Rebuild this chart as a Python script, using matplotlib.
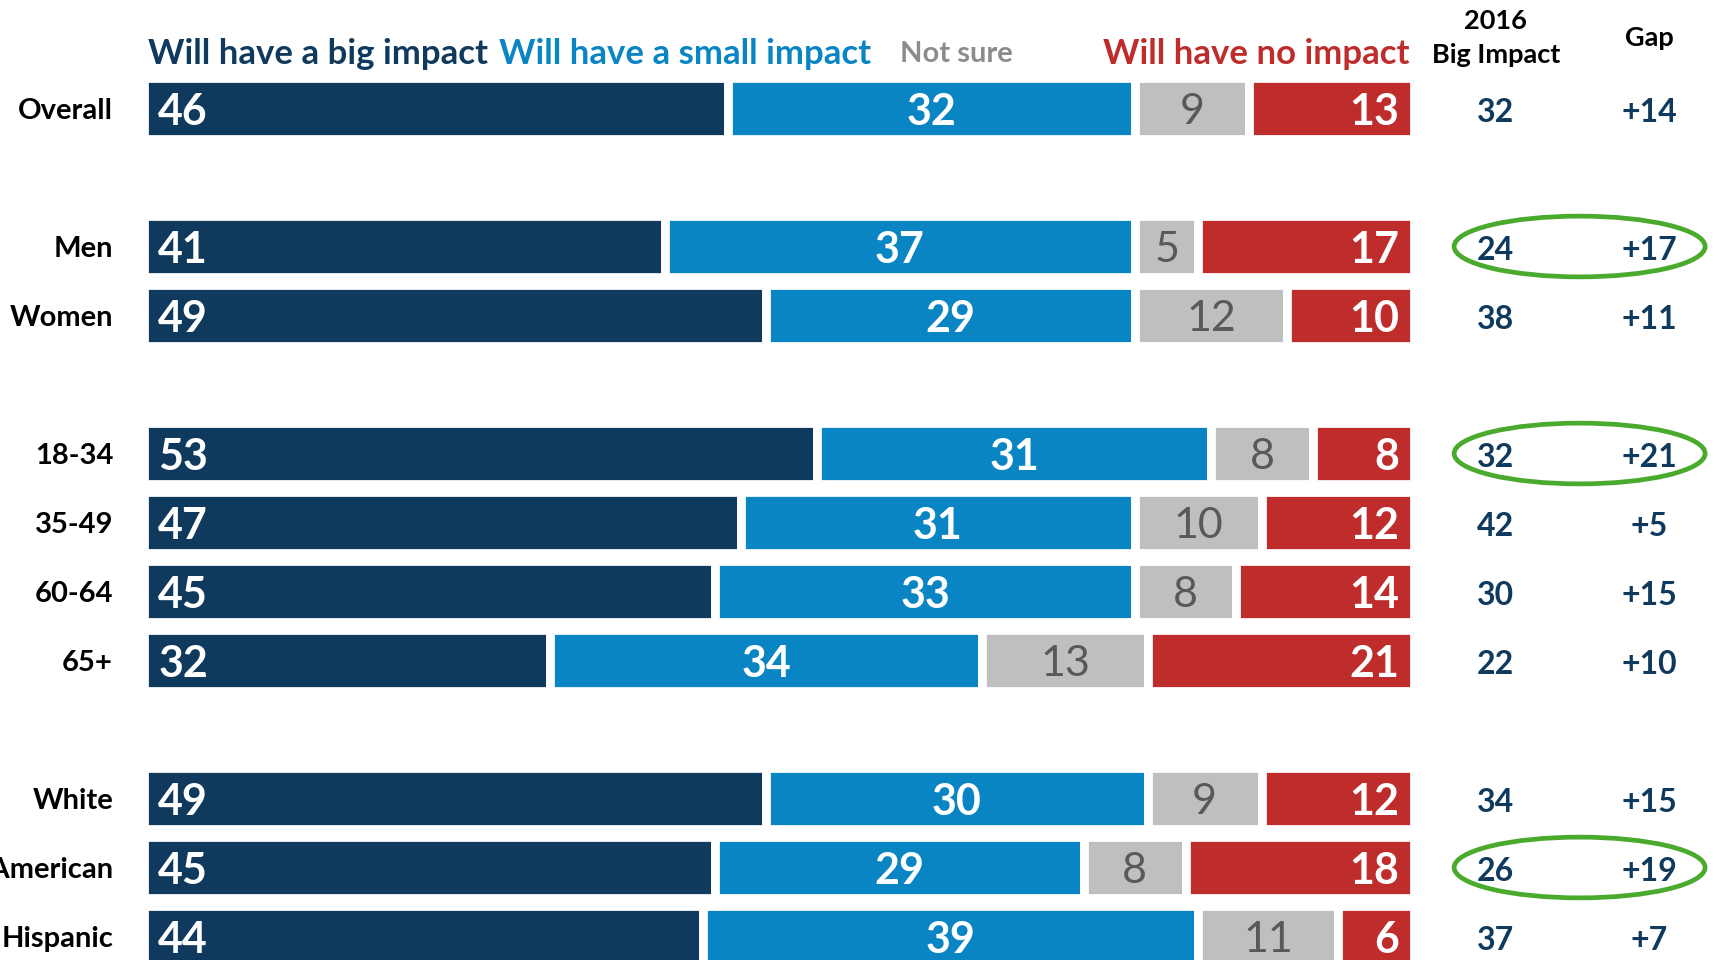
import numpy as np
import matplotlib
matplotlib.use('Agg')
import matplotlib.pyplot as plt
from matplotlib.patches import Ellipse

#==============================================================================
# survey data: share who say it will have a big / small / no impact
groups = ['Overall', 'Men', 'Women', '18-34', '35-49', '60-64', '65+',
          'White', 'African American', 'Hispanic']
rowPos = [0, 2, 3, 5, 6, 7, 8, 10, 11, 12]  # row slots, blank slots between groups

bigImpact   = [46, 41, 49, 53, 47, 45, 32, 49, 45, 44]
smallImpact = [32, 37, 29, 31, 31, 33, 34, 30, 29, 39]
notSure     = [9, 5, 12, 8, 10, 8, 13, 9, 8, 11]
noImpact    = [13, 17, 10, 8, 12, 14, 21, 12, 18, 6]

big2016 = [32, 24, 38, 32, 42, 30, 22, 34, 26, 37]
gap     = ['+14', '+17', '+11', '+21', '+5', '+15', '+10', '+15', '+19', '+7']
circled = ['Men', '18-34', 'African American']

seriesNames = ['Will have a big impact', 'Will have a small impact',
               'Not sure', 'Will have no impact']
#==============================================================================
navy = '#0f3a5e'
blue = '#0a85c3'
grey = '#bfbfbf'
red = '#be2d2b'
green = '#4aaa2e'
fams = ['Lato', 'DejaVu Sans']

pxW, pxH = 1718, 960
x0px, x100px = 143.6, 1414.4   # outer bar edges (white stroke eats ~4.4px)
ppu = (x100px - x0px) / 100.0
rowPx = 69.0
row0px = 108.5

fig = plt.figure(figsize=(pxW/100, pxH/100), dpi=100)
ax = fig.add_axes([0, 0, 1, 1])
ax.set_xlim(-x0px/ppu, (pxW - x0px)/ppu)
ax.set_ylim((pxH - row0px)/rowPx, -row0px/rowPx)
ax.axis('off')

barH = 0.89
series = [bigImpact, smallImpact, notSure, noImpact]
colors = [navy, blue, grey, red]
numSize = 31
xBig16, xGap = 106.4, 118.5

for i, y in enumerate(rowPos):
  left = 0
  for k, vals in enumerate(series):
    v = vals[i]
    ax.barh(y, v, left=left, height=barH, color=colors[k], edgecolor='white', linewidth=6.3)
    if k == 0:
      ax.text(left + 1.15, y, str(v), ha='left', va='center_baseline', color='white',
              fontsize=numSize, fontweight='bold', family=fams)
    elif k == 1:
      ax.text(left + v/2, y, str(v), ha='center', va='center_baseline', color='white',
              fontsize=numSize, fontweight='bold', family=fams)
    elif k == 2:
      ax.text(left + v/2, y, str(v), ha='center', va='center_baseline', color='#595959',
              fontsize=numSize, family=fams)
    else:
      ax.text(left + v - 1.2, y, str(v), ha='right', va='center_baseline', color='white',
              fontsize=numSize, fontweight='bold', family=fams)
    left += v
  # row label
  ax.text(-2.4, y, groups[i], ha='right', va='center_baseline', color='black',
          fontsize=21, fontweight='bold', family=fams)
  # right columns
  ax.text(xBig16, y + 0.02, str(big2016[i]), ha='center', va='center_baseline', color=navy,
          fontsize=23, fontweight='bold', family=fams)
  ax.text(xGap, y + 0.02, gap[i], ha='center', va='center_baseline', color=navy,
          fontsize=23, fontweight='bold', family=fams)
  if groups[i] in circled:
    ax.add_patch(Ellipse((113.0, y), 19.75, 0.88, fill=False,
                         edgecolor=green, linewidth=3.4, clip_on=False))

# legend header
hy = -0.83
ax.text(0.35, hy, seriesNames[0], ha='left', va='center_baseline', color=navy,
        fontsize=25, fontweight='bold', family=fams)
ax.text(28.0, hy, seriesNames[1], ha='left', va='center_baseline', color=blue,
        fontsize=25, fontweight='bold', family=fams)
ax.text(59.5, hy, seriesNames[2], ha='left', va='center_baseline', color='#8c8c8c',
        fontsize=21, fontweight='bold', family=fams)
ax.text(99.6, hy, seriesNames[3], ha='right', va='center_baseline', color=red,
        fontsize=25, fontweight='bold', family=fams)

ax.text(xBig16, -1.30, '2016', ha='center', va='center_baseline', color='black',
        fontsize=19.5, fontweight='bold', family=fams)
ax.text(xBig16, -0.80, 'Big Impact', ha='center', va='center_baseline', color='black',
        fontsize=19.5, fontweight='bold', family=fams)
ax.text(xGap, -1.05, 'Gap', ha='center', va='center_baseline', color='black',
        fontsize=19.5, fontweight='bold', family=fams)

fig.savefig('out.png', dpi=100)
